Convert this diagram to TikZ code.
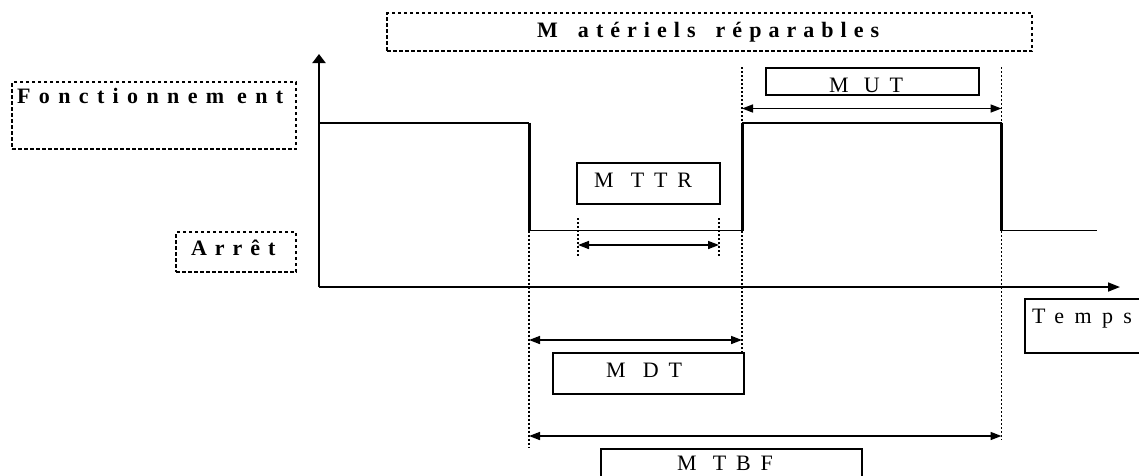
\documentclass[tikz,border=0pt]{standalone}
\usepackage{fontspec}
\setmainfont{Liberation Serif}
\usetikzlibrary{arrows.meta}
\begin{document}
\begin{tikzpicture}[x=1pt,y=-1pt,
  dbox/.style={draw, line width=1.2pt, dash pattern=on 3.5pt off 2.5pt, inner sep=0pt},
  sbox/.style={draw, line width=1.6pt, inner sep=0pt},
  rlbl/.style={anchor=base west, inner sep=0pt, font=\fontsize{22}{26}\selectfont\addfontfeature{LetterSpace=#1}},
  blbl/.style={anchor=base west, inner sep=0pt, font=\fontsize{22}{26}\selectfont\bfseries\addfontfeature{LetterSpace=#1}},
  guide/.style={line width=1.5pt, dash pattern=on 2pt off 2pt},
  dimarrow/.style={line width=1.6pt, {Triangle[length=11pt,width=8pt]}-{Triangle[length=11pt,width=8pt]}},
  yaxis/.style={line width=2pt, -{Triangle[length=9pt,width=13pt]}},
  xaxis/.style={line width=1.7pt, -{Triangle[length=12pt,width=9pt]}},
  sigh/.style={line width=1.8pt},
  sigv/.style={line width=3pt},
]
\useasboundingbox (0,0) rectangle (1139,475);
\begin{scope}
\clip (0,0) rectangle (1139,475);
% dashed boxes
\node[dbox, minimum width=645pt, minimum height=38pt] (matbox) at (709.5,32) {};
\node[dbox, minimum width=284pt, minimum height=67pt] (fonbox) at (154,115.5) {};
\node[dbox, minimum width=120pt, minimum height=40pt] (arrbox) at (236,252) {};
% solid boxes
\node[sbox, minimum width=143pt, minimum height=41pt] (mttrbox) at (648.5,183.5) {};
\node[sbox, minimum width=213pt, minimum height=27pt] (mutbox) at (872.5,81.5) {};
\node[sbox, minimum width=191pt, minimum height=41pt] (mdtbox) at (648.5,373.5) {};
\node[sbox, minimum width=261pt, minimum height=51pt] (mtbfbox) at (731.5,474.5) {};
\node[sbox, minimum width=135pt, minimum height=54pt] (tempsbox) at (1092.5,326) {};
% labels
\node[blbl=32] (mat) at (537,37.5) {M\hspace{20pt}atériels\hspace{20pt}réparables};
\node[blbl=38] (fon) at (17,103.3) {Fonctionnem\hspace{13pt}ent};
\node[blbl=36] (arr) at (191,255) {Arrêt};
\node[rlbl=45] (mttr) at (594,187.3) {M\hspace{17pt}TTR};
\node[rlbl=45] (mut) at (829,92.5) {M\hspace{15pt}UT};
\node[rlbl=45] (mdt) at (606,377) {M\hspace{17pt}DT};
\node[rlbl=45] (mtbf) at (677,470) {M\hspace{16pt}TBF};
\node[rlbl=47] (temps) at (1032,323) {Temps};
% axes
\coordinate (o) at (319,287);
\coordinate (ytip) at (319,54);
\coordinate (xtip) at (1120,287);
\draw[yaxis] (o) -- (ytip);
\draw[xaxis] (o) -- (xtip);
% signal
\coordinate (s0) at (319,122.7);
\coordinate (s1) at (529,122.7);
\coordinate (s2) at (529,230.5);
\coordinate (s3) at (742,230.5);
\coordinate (s4) at (742,122.7);
\coordinate (s5) at (1001.5,122.7);
\coordinate (s6) at (1001.5,230.5);
\coordinate (s7) at (1097,230.5);
\draw[sigh] (s0) -- (s1);
\draw[sigh] (s2) -- (s3);
\draw[sigh] (s4) -- (s5);
\draw[sigh] (s6) -- (s7);
\draw[sigv] (s1) -- (s2);
\draw[sigv] (s3) -- (s4);
\draw[sigv] (s5) -- (s6);
% guide lines
\coordinate (g1a) at (529,230.5);  \coordinate (g1b) at (529,447);
\coordinate (g2a) at (742,67);     \coordinate (g2b) at (742,352);
\coordinate (g3a) at (1001.5,67);  \coordinate (g3b) at (1001.5,440);
\coordinate (g4a) at (578,218);    \coordinate (g4b) at (578,257);
\coordinate (g5a) at (719,218);    \coordinate (g5b) at (719,257);
\draw[guide] (g1a) -- (g1b);
\draw[guide] (g2a) -- (g2b);
\draw[guide] (g3a) -- (g3b);
\draw[guide] (g4a) -- (g4b);
\draw[guide] (g5a) -- (g5b);
% dimension arrows
\coordinate (mutl) at (742,108.5);  \coordinate (mutr) at (1001.5,108.5);
\coordinate (mttrl) at (578,245);   \coordinate (mttrr) at (719,245);
\coordinate (mdtl) at (529,340);    \coordinate (mdtr) at (742,340);
\coordinate (mtbfl) at (529,436);   \coordinate (mtbfr) at (1001.5,436);
\draw[dimarrow] (mutl) -- (mutr);
\draw[dimarrow] (mttrl) -- (mttrr);
\draw[dimarrow] (mdtl) -- (mdtr);
\draw[dimarrow] (mtbfl) -- (mtbfr);
\end{scope}
\end{tikzpicture}
\end{document}
